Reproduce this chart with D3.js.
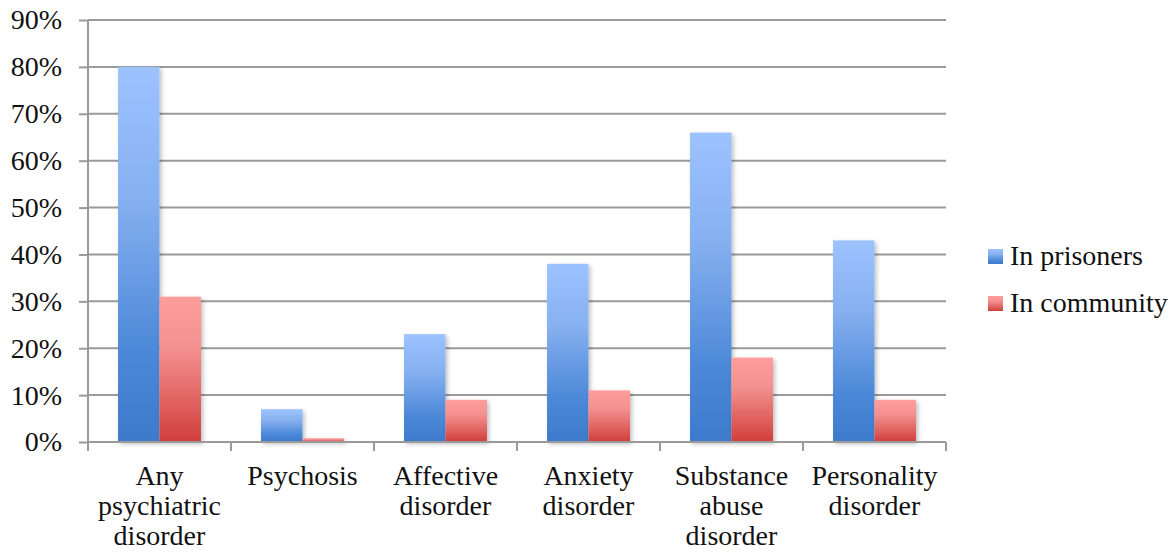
<!DOCTYPE html>
<html>
<head>
<meta charset="utf-8">
<script src="https://cdn.jsdelivr.net/npm/d3@7"></script>
<style>
  html, body { margin: 0; padding: 0; background: #fff; }
</style>
</head>
<body>
<svg id="chart" width="1174" height="554"></svg>
<script>
// Prevalence of psychiatric disorders, prisoners vs. general community (%)
const categories = [
  ["Any", "psychiatric", "disorder"],
  ["Psychosis"],
  ["Affective", "disorder"],
  ["Anxiety", "disorder"],
  ["Substance", "abuse", "disorder"],
  ["Personality", "disorder"]
];
const seriesNames = ["In prisoners", "In community"];
const prisoners = [80, 7, 23, 38, 66, 43];
const community = [31, 0.8, 9, 11, 18, 9];
const yTicks = [0, 10, 20, 30, 40, 50, 60, 70, 80, 90];

const FONT = "Liberation Serif";
const FS = 28;
const TEXT = "#111";

const svg = d3.select("#chart");
const margin = { left: 88, right: 228, top: 20, bottom: 112 };
const W = 1174, H = 554;
const x0 = margin.left, x1 = W - margin.right;
const yTop = margin.top, yBot = H - margin.bottom;

const x = d3.scaleBand().domain(d3.range(categories.length)).range([x0, x1]).paddingInner(0).paddingOuter(0);
const groupW = x.bandwidth() * 0.58;
const xs = d3.scaleBand().domain([0, 1]).range([0, groupW]).padding(0);
const y = d3.scaleLinear().domain([0, 90]).range([yBot, yTop]);

const defs = svg.append("defs");
const grads = [
  { id: "gBlue", stops: [["0%", "#9dc3ff"], ["35%", "#86b0f0"], ["75%", "#4d89d8"], ["100%", "#3d7acc"]] },
  { id: "gRed", stops: [["0%", "#ff9d9d"], ["35%", "#f39090"], ["75%", "#de5f5c"], ["100%", "#d03d3a"]] }
];
grads.forEach(g => {
  const lg = defs.append("linearGradient").attr("id", g.id).attr("x1", 0).attr("y1", 0).attr("x2", 0).attr("y2", 1);
  g.stops.forEach(s => lg.append("stop").attr("offset", s[0]).attr("stop-color", s[1]));
});
const sh = defs.append("filter").attr("id", "shadow").attr("x", "-20%").attr("y", "-5%").attr("width", "150%").attr("height", "115%");
sh.append("feDropShadow").attr("dx", 2).attr("dy", 2).attr("stdDeviation", 2).attr("flood-color", "#000").attr("flood-opacity", 0.25);

// Horizontal gridlines
const gridColor = "#9a9a9a";
svg.append("g").selectAll("line").data(yTicks).join("line")
  .attr("x1", x0).attr("x2", x1)
  .attr("y1", d => y(d)).attr("y2", d => y(d))
  .attr("stroke", gridColor).attr("stroke-width", 2);

// Y axis with outward ticks
const yAxis = svg.append("g").attr("transform", `translate(${x0},0)`)
  .call(d3.axisLeft(y).tickValues(yTicks).tickFormat(d => d + "%").tickSize(9).tickPadding(17));
yAxis.attr("font-family", FONT).attr("font-size", FS);
yAxis.select(".domain").attr("stroke", gridColor).attr("stroke-width", 2).attr("d", `M0,${yTop}V${yBot}`);
yAxis.selectAll(".tick line").attr("stroke", gridColor).attr("stroke-width", 2);
yAxis.selectAll(".tick text").attr("font-size", FS).attr("font-family", FONT).attr("fill", TEXT);

// Bars
const series = [prisoners, community];
const fills = ["url(#gBlue)", "url(#gRed)"];
series.forEach((vals, si) => {
  svg.append("g").attr("filter", "url(#shadow)").selectAll("rect").data(vals).join("rect")
    .attr("x", (d, i) => x(i) + (x.bandwidth() - groupW) / 2 + xs(si))
    .attr("width", xs.bandwidth())
    .attr("y", d => y(d))
    .attr("height", d => yBot - y(d))
    .attr("fill", fills[si]);
});

// X axis baseline and category ticks
const bounds = d3.range(categories.length + 1).map(i => x0 + i * x.bandwidth());
svg.append("line").attr("x1", x0).attr("x2", x1).attr("y1", yBot).attr("y2", yBot)
  .attr("stroke", gridColor).attr("stroke-width", 2);
svg.append("g").selectAll("line").data(bounds).join("line")
  .attr("x1", d => d).attr("x2", d => d).attr("y1", yBot).attr("y2", yBot + 9)
  .attr("stroke", gridColor).attr("stroke-width", 2);

// Category labels
const lbl = svg.append("g").selectAll("text").data(categories).join("text")
  .attr("text-anchor", "middle").attr("font-size", FS).attr("font-family", FONT).attr("fill", TEXT)
  .attr("x", (d, i) => x(i) + x.bandwidth() / 2)
  .attr("y", yBot + 43);
lbl.selectAll("tspan").data(d => d).join("tspan")
  .attr("x", function () { return d3.select(this.parentNode).attr("x"); })
  .attr("dy", (d, i) => i === 0 ? 0 : 30)
  .text(d => d);

// Legend
const legend = svg.append("g").attr("transform", "translate(988,249)");
seriesNames.forEach((n, i) => {
  const g = legend.append("g").attr("transform", `translate(0,${i * 47})`);
  g.append("rect").attr("width", 15).attr("height", 15).attr("fill", fills[i]);
  g.append("text").attr("x", 22).attr("y", 16).attr("font-size", FS)
    .attr("font-family", FONT).attr("fill", TEXT).text(n);
});
</script>
</body>
</html>
